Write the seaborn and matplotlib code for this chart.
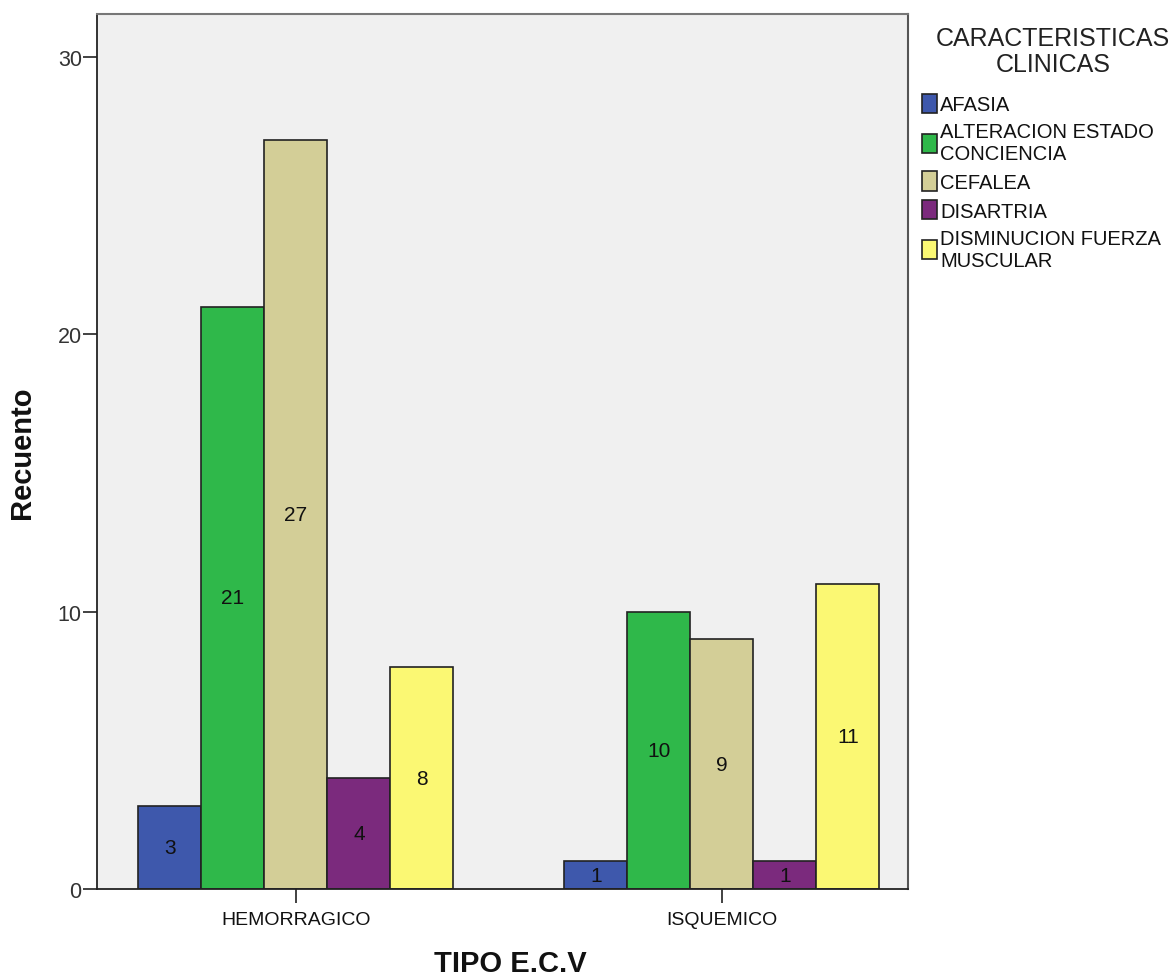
import pandas as pd
import seaborn as sns
import matplotlib.pyplot as plt

# %% Datos
tipos = ['HEMORRAGICO', 'ISQUEMICO']
caracteristicas = ['AFASIA', 'ALTERACION ESTADO\nCONCIENCIA', 'CEFALEA',
                   'DISARTRIA', 'DISMINUCION FUERZA\nMUSCULAR']
hemorragico = [3, 21, 27, 4, 8]
isquemico = [1, 10, 9, 1, 11]
colores = ['#3e58ac', '#2fb84a', '#d3ce97', '#7b2a7d', '#fbf873']

filas = []
for i, c in enumerate(caracteristicas):
    filas.append({'tipo': tipos[0], 'car': c, 'recuento': hemorragico[i]})
    filas.append({'tipo': tipos[1], 'car': c, 'recuento': isquemico[i]})
df = pd.DataFrame(filas)

# %% Grafico
sns.set_style('white')
plt.rcParams['font.family'] = ['Liberation Sans', 'DejaVu Sans']

fig = plt.figure(figsize=(11.76, 9.78), dpi=100)
ax = fig.add_axes([0.0825, 0.090, 0.6895, 0.8947])
ax.set_facecolor('#f0f0f0')

sns.barplot(data=df, x='tipo', y='recuento', hue='car', order=tipos,
            hue_order=caracteristicas, palette=colores, width=0.74, gap=0,
            edgecolor='#222222', linewidth=1.2, saturation=1, ax=ax)

# etiquetas dentro de las barras
for cont in ax.containers:
    ax.bar_label(cont, label_type='center', fontsize=15, color='#111111')

ax.set_xlim(-0.467, 1.437)
ax.set_ylim(0, 31.55)
ax.set_yticks([0, 10, 20, 30])
ax.tick_params(axis='y', left=True, length=10, width=1.3, pad=1, labelsize=15.5,
               labelcolor='#333333', color='#333333')
ax.tick_params(axis='x', bottom=True, length=10, width=1.3, pad=6, labelsize=14,
               labelcolor='#111111', color='#333333')

for s in ['left', 'bottom']:
    ax.spines[s].set_color('#222222')
    ax.spines[s].set_linewidth(1.3)
ax.spines['top'].set_color('#777777')
ax.spines['top'].set_linewidth(1.5)
ax.spines['right'].set_color('#555555')
ax.spines['right'].set_linewidth(1.5)

ax.set_xlabel('TIPO E.C.V', fontsize=21, fontweight='bold', color='#111111')
ax.set_ylabel('Recuento', fontsize=21, fontweight='bold', color='#111111')
ax.xaxis.set_label_coords(0.51, -0.069)
ax.yaxis.set_label_coords(-0.075, 0.50)

# titulo de la leyenda aparte
fig.text(1053 / 1176, 1 - 27 / 978, 'CARACTERISTICAS\nCLINICAS', ha='center',
         va='top', fontsize=18, linespacing=1.1, color='#222222')

leg = ax.legend(loc='upper left', bbox_to_anchor=(0.784, 0.903),
                bbox_transform=fig.transFigure, frameon=False, fontsize=14.5,
                handlelength=0.75, handleheight=1.1, handletextpad=0.15,
                labelspacing=0.4, borderaxespad=0, borderpad=0)
for h in leg.legend_handles:
    h.set_edgecolor('#222222')
for t in leg.get_texts():
    t.set_color('#111111')

plt.savefig('out.png', dpi=100)
